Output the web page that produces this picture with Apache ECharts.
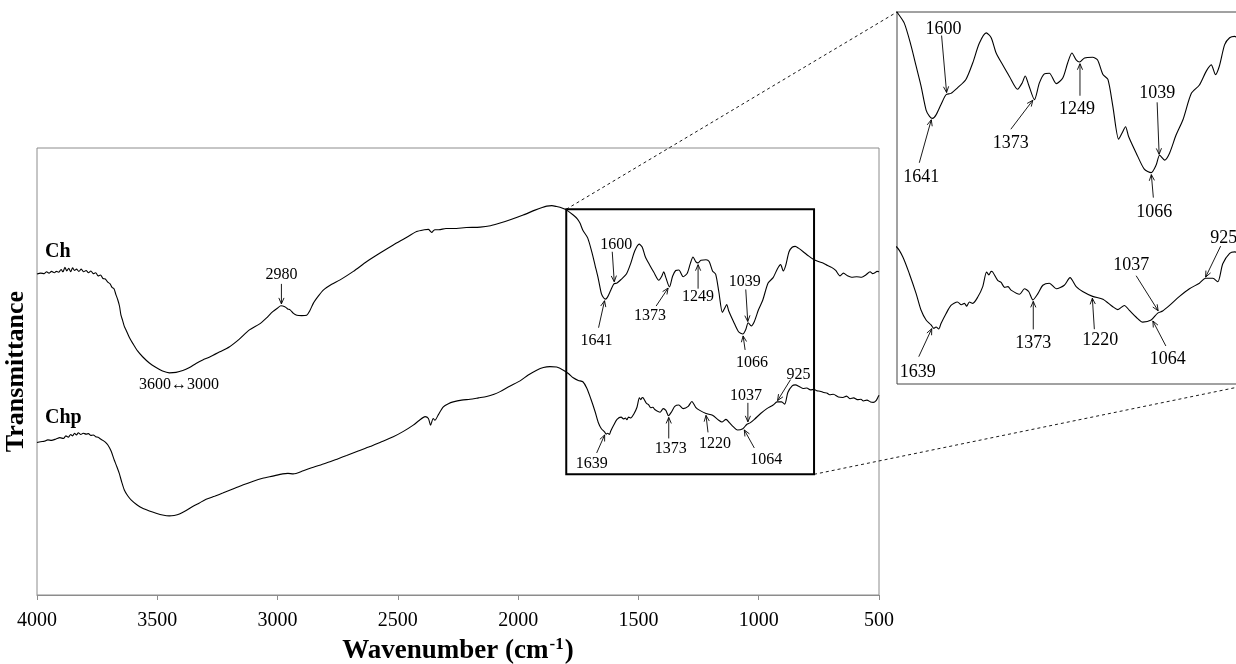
<!DOCTYPE html>
<html>
<head>
<meta charset="utf-8">
<script src="https://cdn.jsdelivr.net/npm/echarts@6/dist/echarts.min.js"></script>
<style>
  html, body { margin: 0; padding: 0; background: #fff; }
  #chart { width: 1236px; height: 664px; }
</style>
</head>
<body>
<div id="chart"></div>
<script>
// FTIR spectra of Ch and Chp: [wavenumber (cm-1), transmittance (a.u., offset)]
const chSpectrum = [
  [4000,71.8],[3985,72.0],[3970,71.9],[3960,72.3],[3950,72.0],[3940,72.4],[3928,72.1],[3920,72.4],
  [3910,72.2],[3900,72.8],[3892,72.3],[3884,73.3],[3876,72.5],[3868,73.1],[3860,72.3],[3852,73.2],
  [3844,72.6],[3836,72.9],[3826,72.4],[3816,72.9],[3806,72.3],[3796,72.6],[3786,72.1],[3776,72.5],
  [3766,71.9],[3756,72.1],[3746,71.4],[3736,71.6],[3726,70.8],[3716,70.7],[3706,70.0],[3696,69.6],
  [3688,68.8],[3680,68.5],[3672,67.2],[3664,66.0],[3657,64.6],[3651,62.6],[3644,61.4],[3637,60.1],
  [3630,59.3],[3616,57.6],[3602,56.3],[3582,54.6],[3561,53.3],[3533,51.9],[3505,50.9],[3478,50.1],
  [3450,49.7],[3422,49.8],[3394,50.2],[3366,50.9],[3339,51.8],[3311,52.6],[3284,53.2],[3240,54.4],
  [3201,55.5],[3160,57.2],[3117,59.3],[3076,60.6],[3048,61.9],[3020,63.4],[3000,64.2],[2986,64.7],
  [2970,64.5],[2958,64.0],[2948,63.8],[2934,63.0],[2920,62.6],[2900,62.5],[2879,62.6],[2866,63.6],
  [2851,65.3],[2830,66.9],[2810,68.2],[2775,69.5],[2740,70.5],[2685,72.4],[2629,74.6],[2574,76.5],
  [2519,78.3],[2470,79.8],[2422,81.3],[2390,81.7],[2373,81.8],[2365,81.4],[2359,81.1],[2352,81.5],
  [2346,81.7],[2330,81.7],[2300,82.0],[2270,82.0],[2215,82.2],[2158,82.3],[2115,82.6],[2075,83.2],
  [2030,84.0],[1979,85.0],[1930,86.1],[1900,86.7],[1881,87.0],[1860,87.1],[1840,86.9],[1818,86.6],
  [1798,86.1],[1771,85.0],[1755,84.2],[1743,83.2],[1731,81.6],[1711,79.9],[1693,76.6],[1680,73.7],
  [1667,70.8],[1654,67.4],[1645,66.5],[1637,66.2],[1628,66.7],[1615,68.2],[1602,69.6],[1589,69.8],
  [1572,70.6],[1550,71.8],[1532,74.2],[1515,77.0],[1497,78.5],[1484,77.8],[1471,75.6],[1454,73.9],
  [1436,72.2],[1415,70.4],[1403,71.3],[1395,72.3],[1386,71.0],[1371,68.9],[1358,71.3],[1345,72.6],
  [1332,72.7],[1314,71.2],[1297,72.0],[1284,74.2],[1273,75.6],[1262,74.6],[1253,74.3],[1240,74.9],
  [1219,75.0],[1206,74.6],[1192,72.5],[1179,71.8],[1166,67.9],[1151,63.2],[1142,64.1],[1133,65.0],
  [1125,63.6],[1105,61.2],[1084,58.9],[1066,58.4],[1053,59.5],[1044,60.9],[1031,60.2],[1018,61.2],
  [1001,63.8],[983,66.0],[961,69.8],[940,71.0],[922,73.0],[909,73.9],[898,72.5],[888,73.7],
  [874,76.8],[861,77.8],[848,78.0],[835,77.6],[815,76.8],[794,75.9],[773,75.1],[752,74.6],
  [731,74.2],[714,73.7],[697,73.3],[680,72.6],[662,71.4],[648,72.0],[631,71.4],[614,71.1],
  [593,71.2],[572,71.1],[555,71.6],[537,72.3],[527,71.9],[517,72.1],[508,72.4],[500,72.3]
];

const chpSpectrum = [
  [4000,34.1],[3985,34.3],[3970,34.4],[3955,34.7],[3940,34.6],[3921,34.9],[3905,35.2],[3890,35.0],
  [3880,35.6],[3870,35.3],[3860,35.9],[3852,35.6],[3844,36.2],[3836,35.8],[3828,36.3],[3818,35.9],
  [3808,36.2],[3796,36.0],[3786,36.1],[3776,35.7],[3766,35.8],[3756,35.4],[3746,35.3],[3736,34.9],
  [3726,34.6],[3716,34.2],[3706,33.6],[3692,32.2],[3679,30.2],[3668,28.7],[3658,27.2],[3648,25.3],
  [3637,23.5],[3623,22.2],[3609,21.3],[3585,20.2],[3561,19.4],[3533,18.8],[3505,18.3],[3478,17.9],
  [3450,17.7],[3430,17.8],[3408,18.1],[3380,18.9],[3353,19.8],[3325,20.6],[3297,21.4],[3262,22.1],
  [3228,22.8],[3186,23.7],[3145,24.6],[3104,25.4],[3062,26.1],[3020,26.6],[2979,27.1],[2957,27.2],
  [2935,27.1],[2893,27.8],[2851,28.6],[2816,29.2],[2782,29.8],[2748,30.5],[2713,31.2],[2665,32.2],
  [2616,33.2],[2568,34.3],[2519,35.4],[2477,36.6],[2436,38.0],[2410,39.1],[2387,39.9],[2373,39.5],
  [2364,38.0],[2353,39.5],[2346,39.1],[2332,40.3],[2311,42.1],[2290,42.8],[2270,43.2],[2235,43.6],
  [2200,43.8],[2165,44.1],[2131,44.4],[2100,44.9],[2075,45.5],[2035,46.7],[1992,47.9],[1958,49.2],
  [1923,50.3],[1895,50.9],[1868,51.1],[1840,51.0],[1812,50.3],[1790,49.5],[1771,48.6],[1750,48.0],
  [1731,47.7],[1715,46.3],[1698,43.9],[1680,41.0],[1667,38.6],[1654,37.2],[1641,36.5],[1634,36.0],
  [1628,36.2],[1621,35.9],[1615,36.7],[1602,38.1],[1589,39.3],[1572,39.8],[1562,39.4],[1554,39.6],
  [1548,39.2],[1541,39.8],[1532,39.6],[1519,40.5],[1506,42.0],[1496,44.1],[1490,43.7],[1484,44.2],
  [1480,44.1],[1467,42.9],[1458,42.6],[1449,41.9],[1440,42.0],[1432,41.5],[1410,40.9],[1397,41.7],
  [1386,41.3],[1375,40.1],[1362,41.0],[1349,42.2],[1332,42.5],[1314,41.7],[1293,42.2],[1278,43.3],
  [1262,42.0],[1245,41.3],[1219,40.6],[1192,40.2],[1166,39.1],[1153,38.7],[1136,39.3],[1123,38.6],
  [1105,37.6],[1088,36.9],[1066,37.2],[1049,38.2],[1036,38.5],[1018,39.3],[992,40.6],[966,41.7],
  [940,42.5],[924,43.2],[905,43.2],[892,42.7],[879,45.3],[861,46.8],[848,47.0],[830,46.6],
  [815,46.2],[800,46.3],[785,45.9],[770,46.0],[759,45.7],[745,45.6],[730,45.3],[717,45.2],
  [705,44.8],[690,44.9],[669,44.3],[650,44.2],[635,44.5],[620,43.9],[605,44.1],[590,43.7],
  [575,43.8],[565,43.4],[550,43.6],[535,43.2],[524,43.1],[512,43.5],[503,44.4],[500,44.7]
];

// axis ticks of the full spectrum (cm-1)
const xTicks = [4000, 3500, 3000, 2500, 2000, 1500, 1000, 500];

// assigned bands (label, wavenumber of the marked feature)
const chBands = [['2980',2984],['1600',1600],['1641',1639],['1373',1372],['1249',1252],['1039',1045],['1066',1066]];
const chpBands = [['1639',1637],['1373',1374],['1220',1220],['1064',1064],['1037',1045],['925',926]];

// zoomed windows: main-plot frame and enlarged panel ranges
const zoomFrame = { wnHigh: 1800, wnLow: 770, tLow: 27.0, tHigh: 86.3 };
const insetRange = { wnHigh: 1730, wnLow: 800, tLow: 28, tHigh: 81.5 };

// callout placement in pixels: [tail dx, tail dy, text dx, text dy] relative to arrow tip
const calloutMain = {
  'Ch-2980': [0,-20, 0,-29], 'Ch-1600': [-2,-30, 2,-37], 'Ch-1641': [-6,27, -8,40],
  'Ch-1373': [-12,18, -18,28], 'Ch-1249': [0,24, 0,32], 'Ch-1039': [-2,-32, -3,-40],
  'Ch-1066': [2,14, 9,27],
  'Chp-1639': [-8,18, -13,29], 'Chp-1373': [0,21, 2,31], 'Chp-1220': [2,17, 9,28],
  'Chp-1064': [10,18, 22,30], 'Chp-1037': [0,-19, -2,-26], 'Chp-925': [13,-21, 21,-26]
};
const calloutInset = {
  'Ch-1600': [-5,-57, -3,-63], 'Ch-1641': [-12,43, -10,57], 'Ch-1373': [-22,29, -22,43],
  'Ch-1249': [0,32, -3,46], 'Ch-1039': [-2,-52, -2,-61], 'Ch-1066': [2,23, 3,38],
  'Chp-1639': [-13,28, -14,44], 'Chp-1373': [0,28, 0,42], 'Chp-1220': [2,31, 8,42],
  'Chp-1064': [13,25, 15,38], 'Chp-1037': [-22,-35, -27,-45], 'Chp-925': [15,-31, 18,-39]
};

// free text tags placed in data coordinates of the main plot
const mainTags = [
  { text: 'Ch', wn: 3967, t: 76.7, bold: true, align: 'left' },
  { text: 'Chp', wn: 3967, t: 39.6, bold: true, align: 'left' },
  { text: '3600\u21943000', wn: 3410, t: 47.0, bold: false, align: 'center' }
];

const SERIF = '"Liberation Serif", "Times New Roman", Times, serif';

const chart = echarts.init(document.getElementById('chart'), null, { renderer: 'canvas' });

const lineSeries = (name, data, idx) => ({
  name, type: 'line', data, xAxisIndex: idx, yAxisIndex: idx,
  showSymbol: false, symbol: 'none', smooth: 0.25, clip: true, silent: true,
  lineStyle: { color: '#000', width: 1.1 }
});

chart.setOption({
  animation: false,
  backgroundColor: '#fff',
  grid: [
    { left: 37, top: 148, width: 842, height: 447, containLabel: false, outerBoundsMode: 'none',
      show: true, borderColor: '#8c8c8c', borderWidth: 1, backgroundColor: 'transparent' },
    { left: 897, top: 12, width: 356, height: 372, containLabel: false, outerBoundsMode: 'none',
      show: true, borderColor: '#444', borderWidth: 1, backgroundColor: 'transparent' }
  ],
  xAxis: [
    {
      gridIndex: 0, type: 'value', inverse: true,
      min: xTicks[xTicks.length - 1], max: xTicks[0], interval: 500,
      name: '{t|Wavenumber (cm}{s|-1}{t|)}', nameLocation: 'middle', nameGap: 41,
      nameTextStyle: {
        rich: {
          t: { fontFamily: SERIF, fontWeight: 'bold', fontSize: 27, color: '#000', lineHeight: 31 },
          s: { fontFamily: SERIF, fontWeight: 'bold', fontSize: 17, color: '#000', verticalAlign: 'top', lineHeight: 31, padding: [0, 1, 0, 1] }
        }
      },
      axisLine: { show: true, lineStyle: { color: '#8c8c8c', width: 1 } },
      axisTick: { show: true, inside: false, length: 5, lineStyle: { color: '#8c8c8c' } },
      axisLabel: { fontFamily: SERIF, fontSize: 20, color: '#000', margin: 16, formatter: v => String(v) },
      splitLine: { show: false }
    },
    {
      gridIndex: 1, type: 'value', inverse: true,
      min: insetRange.wnLow, max: insetRange.wnHigh, show: false
    }
  ],
  yAxis: [
    {
      gridIndex: 0, type: 'value', min: 0, max: 100,
      name: 'Transmittance', nameLocation: 'middle', nameRotate: 90, nameGap: 8,
      nameTextStyle: { fontFamily: SERIF, fontWeight: 'bold', fontSize: 26, color: '#000' },
      axisLine: { show: false }, axisTick: { show: false }, axisLabel: { show: false },
      splitLine: { show: false }
    },
    {
      gridIndex: 1, type: 'value', min: insetRange.tLow, max: insetRange.tHigh, show: false
    }
  ],
  series: [
    lineSeries('Ch', chSpectrum, 0),
    lineSeries('Chp', chpSpectrum, 0),
    lineSeries('Ch (1730–800)', chSpectrum, 1),
    lineSeries('Chp (1730–800)', chpSpectrum, 1)
  ]
});

// linear interpolation on a spectrum sorted by decreasing wavenumber
function valueAt(data, wn) {
  for (let i = 0; i < data.length - 1; i++) {
    const [x0, y0] = data[i], [x1, y1] = data[i + 1];
    if (wn <= x0 && wn >= x1) {
      const t = x0 === x1 ? 0 : (x0 - wn) / (x0 - x1);
      return y0 + t * (y1 - y0);
    }
  }
  return data[data.length - 1][1];
}

function px(gridIdx, wn, t) {
  return chart.convertToPixel({ xAxisIndex: gridIdx, yAxisIndex: gridIdx }, [wn, t]);
}

const graphics = [];

function addCallout(gridIdx, spectrum, label, wn, layout, fontSize) {
  const [tdx, tdy, lx, ly] = layout;
  const p = px(gridIdx, wn, valueAt(spectrum, wn));
  const len = Math.hypot(tdx, tdy) || 1;
  const ux = tdx / len, uy = tdy / len;       // unit vector from tip toward tail
  const tip = [p[0] + ux * 2, p[1] + uy * 2];
  const tail = [tip[0] + tdx, tip[1] + tdy];
  graphics.push({
    type: 'line', silent: true, z: 10,
    shape: { x1: tail[0], y1: tail[1], x2: tip[0], y2: tip[1] },
    style: { stroke: '#000', lineWidth: 0.9 }
  });
  // open arrow head
  const hl = 6, hw = 2.6, nx = -uy, ny = ux;
  graphics.push({
    type: 'polyline', silent: true, z: 10,
    shape: { points: [
      [tip[0] + ux * hl + nx * hw, tip[1] + uy * hl + ny * hw],
      tip,
      [tip[0] + ux * hl - nx * hw, tip[1] + uy * hl - ny * hw]
    ] },
    style: { stroke: '#000', lineWidth: 0.9, fill: null }
  });
  graphics.push({
    type: 'text', silent: true, z: 11,
    style: {
      text: label, x: tip[0] + lx, y: tip[1] + ly,
      fill: '#000', font: fontSize + 'px ' + SERIF,
      align: 'center', verticalAlign: 'middle', textAlign: 'center', textVerticalAlign: 'middle'
    }
  });
}

chBands.forEach(([label, wn]) => {
  const key = 'Ch-' + label;
  if (calloutMain[key]) addCallout(0, chSpectrum, label, wn, calloutMain[key], 16);
  if (calloutInset[key]) addCallout(1, chSpectrum, label, wn, calloutInset[key], 18);
});
chpBands.forEach(([label, wn]) => {
  const key = 'Chp-' + label;
  if (calloutMain[key]) addCallout(0, chpSpectrum, label, wn, calloutMain[key], 16);
  if (calloutInset[key]) addCallout(1, chpSpectrum, label, wn, calloutInset[key], 18);
});

mainTags.forEach(tag => {
  const p = px(0, tag.wn, tag.t);
  graphics.push({
    type: 'text', silent: true, z: 11,
    style: {
      text: tag.text, x: p[0], y: p[1], fill: '#000',
      font: (tag.bold ? 'bold 20px ' : '16px ') + SERIF,
      align: tag.align, verticalAlign: 'middle', textAlign: tag.align, textVerticalAlign: 'middle'
    }
  });
});

// frame of the zoomed window and dashed guides to the enlarged panel
const fTL = px(0, zoomFrame.wnHigh, zoomFrame.tHigh);
const fBR = px(0, zoomFrame.wnLow, zoomFrame.tLow);
graphics.push({
  type: 'rect', silent: true, z: 12,
  shape: { x: fTL[0], y: fTL[1], width: fBR[0] - fTL[0], height: fBR[1] - fTL[1] },
  style: { fill: null, stroke: '#000', lineWidth: 2 }
});
const iTL = px(1, insetRange.wnHigh, insetRange.tHigh);
const iBR = px(1, insetRange.wnLow, insetRange.tLow);
[[fTL, iTL], [fBR, iBR]].forEach(([a, b]) => {
  graphics.push({
    type: 'line', silent: true, z: 12,
    shape: { x1: a[0], y1: a[1], x2: b[0], y2: b[1] },
    style: { stroke: '#000', lineWidth: 0.9, lineDash: [3, 3] }
  });
});

chart.setOption({ graphic: graphics });
</script>
</body>
</html>
